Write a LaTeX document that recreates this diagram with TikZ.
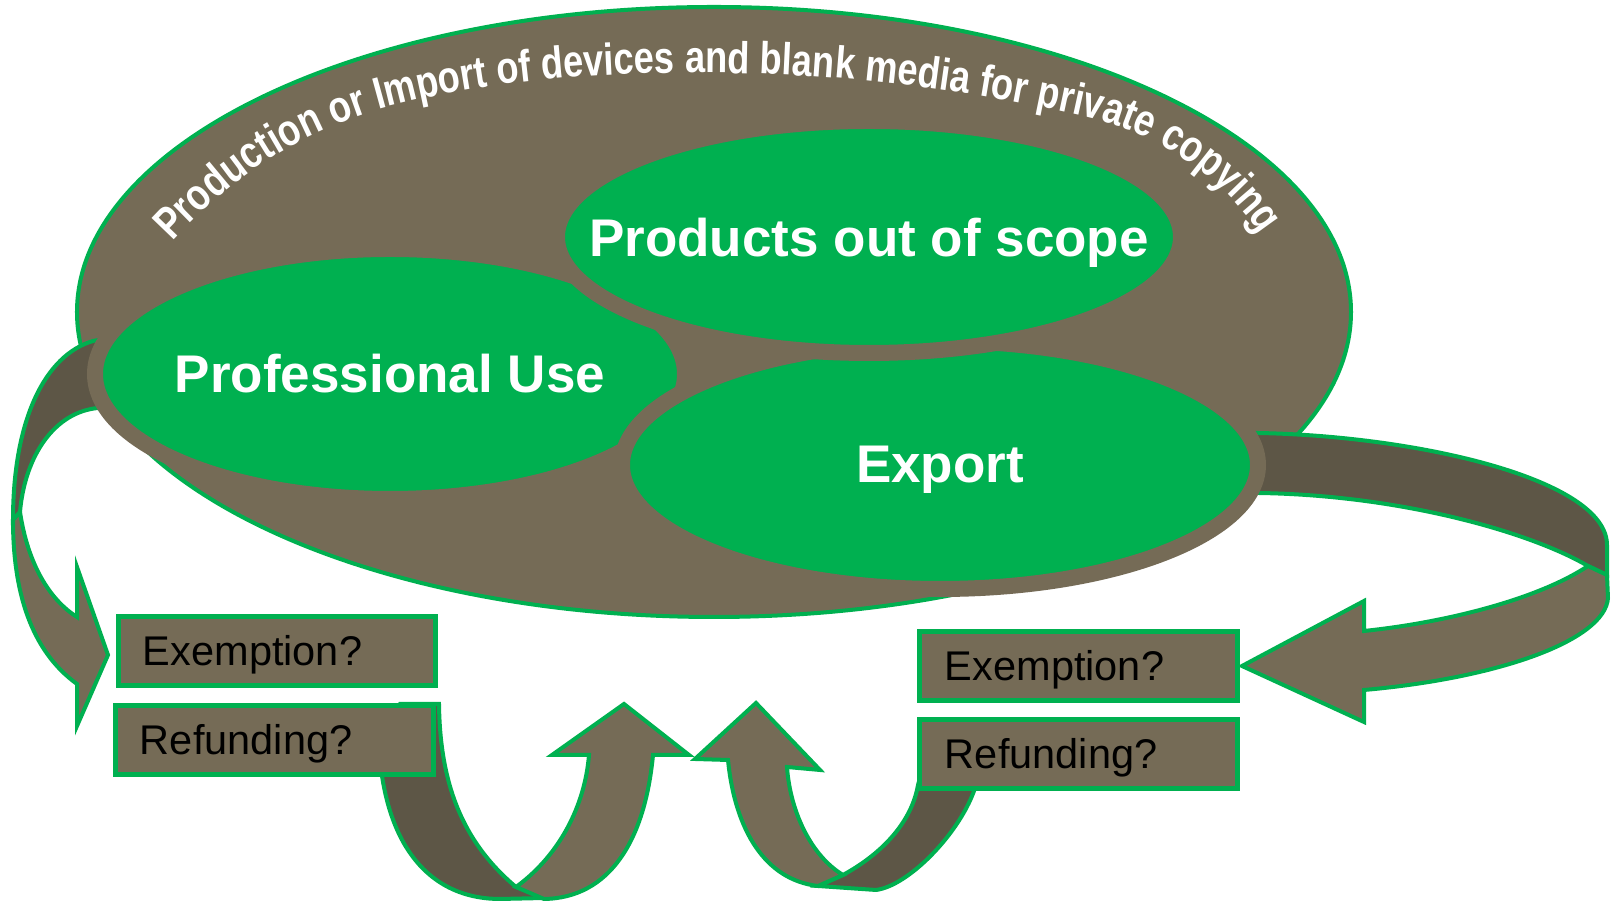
\documentclass[tikz,border=0pt]{standalone}
\usepackage{fontspec}
\setmainfont{Liberation Sans}
\newfontfamily\arcfam[FakeStretch=0.81]{Liberation Sans}
\usetikzlibrary{shapes.geometric,decorations.text}
\definecolor{brownfill}{RGB}{117,107,86}
\definecolor{browndark}{RGB}{93,86,70}
\definecolor{grn}{RGB}{0,176,80}
\newcommand{\arcfont}{\arcfam\bfseries\fontsize{8.95}{10}\selectfont\color{white}}
\begin{document}
\begin{tikzpicture}[x=0.2pt,y=-0.2pt,
  bigell/.style={ellipse, draw=grn, fill=brownfill, line width=0.8pt, inner sep=0pt},
  greenell/.style={ellipse, fill=grn, draw=brownfill, line width=3.2pt, inner sep=0pt},
  eltext/.style={text=white, font=\fontsize{10.6}{12}\selectfont\bfseries, inner sep=0pt, anchor=base},
  qbox/.style={rectangle, draw=grn, fill=brownfill, line width=1pt, minimum width=63.4pt, minimum height=13.8pt, inner sep=0pt},
  qtext/.style={text=black, font=\fontsize{8.3}{10}\selectfont, inner sep=0pt, anchor=base west},
  ribbon/.style={draw=grn, line width=0.8pt, line join=miter},
  ribfront/.style={ribbon, fill=brownfill},
  ribback/.style={ribbon, fill=browndark}]
\fill[white] (0,0) rectangle (1618,902);
\useasboundingbox (0,0) rectangle (1618,902);

% outer ellipse
\node[bigell, minimum width=254.8pt, minimum height=122pt] (big) at (714,312) {};

% left ribbon arrow
\draw[ribback] (115,337) -- (93,341) .. controls (45,355) and (13,420) .. (13,520) -- (20,512) .. controls (25,455) and (55,412) .. (98,408) -- (115,408) -- cycle;
\draw[ribfront] (20,512) .. controls (28,565) and (50,600) .. (77,617) -- (77,567) -- (108,655) -- (77,726) -- (77,684) .. controls (30,650) and (13,590) .. (13,520) -- cycle;

% right ribbon arrow
\draw[ribback] (1230,432) -- (1258,433) .. controls (1420,436) and (1607,480) .. (1607,545) -- (1607,575) -- (1588,566) .. controls (1530,532) and (1400,495) .. (1258,493) -- (1230,493) -- cycle;
\draw[ribfront] (1588,566) -- (1607,575) -- (1608,598) .. controls (1605,640) and (1500,678) .. (1364,690) -- (1364,722) -- (1242,666) -- (1364,601) -- (1364,631) .. controls (1450,622) and (1540,598) .. (1588,566) -- cycle;

% inner ellipses
\node[greenell, minimum width=118pt, minimum height=50pt] (pro) at (390,374) {};
\node[greenell, minimum width=127.2pt, minimum height=49.6pt] (exp) at (940,465) {};
\node[greenell, minimum width=124.8pt, minimum height=46.4pt] (out) at (869,237) {};

% bottom left U-arrow
\draw[ribback] (382,740) -- (382,776) .. controls (395,860) and (440,899) .. (500,899) -- (545,898) -- (516,887) .. controls (460,840) and (440,780) .. (439,704) -- (400,704) -- cycle;
\draw[ribfront] (516,887) .. controls (560,855) and (585,805) .. (589,755) -- (552,755) -- (624,704) -- (689,755) -- (653,755) .. controls (645,840) and (610,898) .. (544,899) -- cycle;

% bottom right U-arrow
\draw[ribback] (974,760) -- (974,791) .. controls (958,835) and (908,886) .. (876,890) -- (818,886) -- (843,875) .. controls (885,852) and (912,820) .. (918,785) -- (925,760) -- cycle;
\draw[ribfront] (843,875) .. controls (810,855) and (790,810) .. (787,767) -- (820,770) -- (756,703) -- (695,759) -- (728,760) .. controls (735,830) and (765,880) .. (818,886) -- cycle;

% boxes
\node[qbox] (lex) at (277,651) {};
\node[qbox] (lre) at (274.5,740) {};
\node[qbox] (rex) at (1078.5,666) {};
\node[qbox] (rre) at (1078.5,754) {};
\node[qtext] (lext) at (142,666) {Exemption?};
\node[qtext] (lret) at (139,755) {Refunding?};
\node[qtext] (rext) at (944,681) {Exemption?};
\node[qtext] (rret) at (944,769) {Refunding?};

% ellipse labels
\node[eltext] (prot) at (390,393) {Professional Use};
\node[eltext] (outt) at (869,257) {Products out of scope};
\node[eltext] (expt) at (940,483) {Export};

% arched title
\path[decorate, decoration={text along path, text={|\arcfont|Production or Import of devices and blank media for private copying}, text align=center}]
  (168,246) .. controls (213,197) and (270,145) .. (373,111)
  .. controls (480,80) and (600,72) .. (720,73)
  .. controls (840,74) and (960,88) .. (1088,117)
  .. controls (1162,135) and (1225,178) .. (1264,240);
\end{tikzpicture}
\end{document}
